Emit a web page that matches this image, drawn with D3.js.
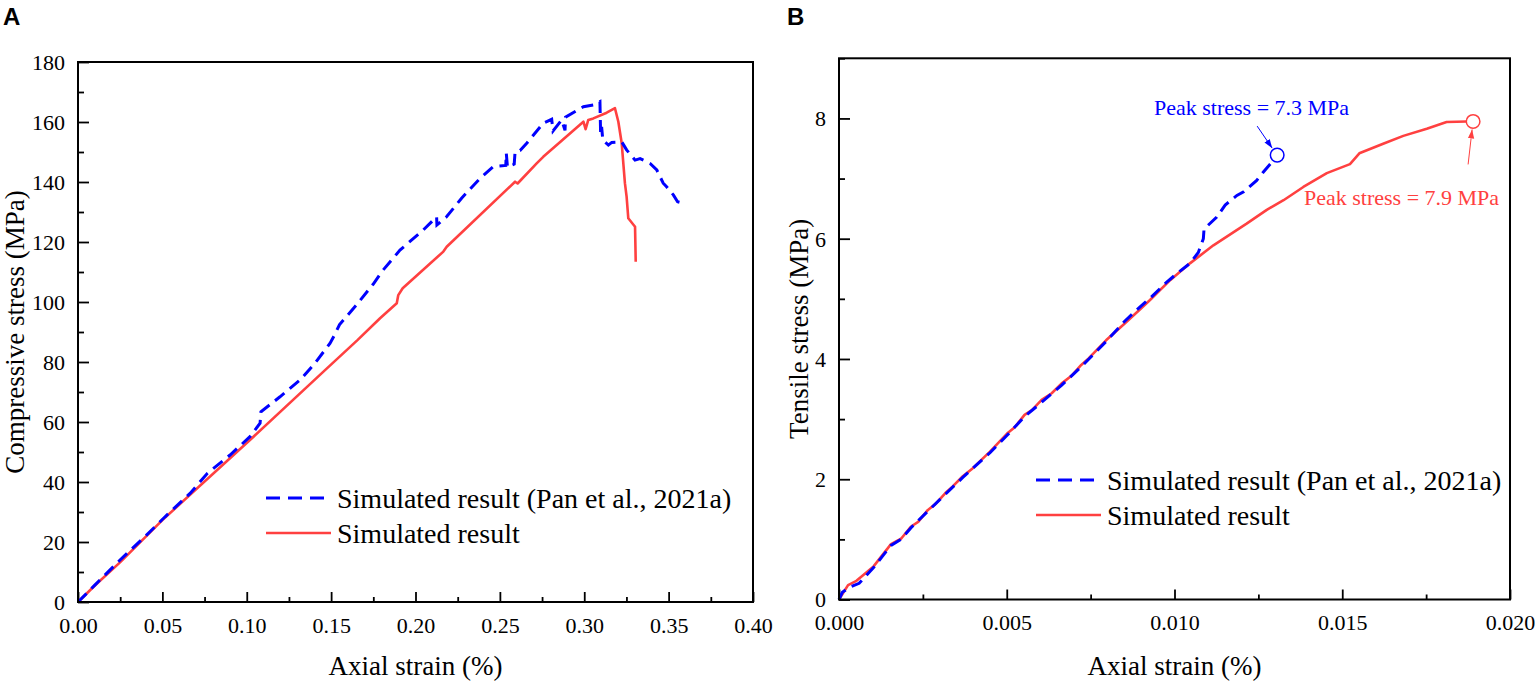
<!DOCTYPE html>
<html>
<head>
<meta charset="utf-8">
<script src="https://cdn.jsdelivr.net/npm/d3@7"></script>
<style>
  html, body { margin: 0; padding: 0; background: #fff; }
  svg { display: block; }
</style>
</head>
<body>
<svg id="chart" width="1535" height="682"></svg>
<script>
// ---------------- DATA ----------------
// Panel A: compressive test
const compXTicks = [0, 0.05, 0.10, 0.15, 0.20, 0.25, 0.30, 0.35, 0.40];
const compYTicks = [0, 20, 40, 60, 80, 100, 120, 140, 160, 180];
const compPan = [
  [0,0],[0.005,2.8],[0.0101,5.7],[0.0249,14],[0.0397,21.8],[0.0516,28.4],[0.0664,36.2],
  [0.0767,42.9],[0.0901,49],[0.1019,55.1],[0.1079,59.6],[0.1084,63.4],[0.1197,68.4],
  [0.1316,74],[0.1404,79.6],[0.1493,86.2],[0.152,89],[0.155,92.5],[0.165,99],[0.175,106],
  [0.180,110.1],[0.1908,117.3],[0.2046,124],[0.2125,128.4],[0.2127,125.7],[0.2184,128.4],
  [0.2273,134.6],[0.2382,141.2],[0.2461,145.1],[0.2535,145.5],[0.2538,149.6],[0.2545,145],
  [0.2585,146],[0.259,150],[0.262,150.5],[0.2659,152.9],[0.2757,159.6],[0.2807,160.9],
  [0.2815,157],[0.2866,160.7],[0.2886,157.2],[0.2889,161.6],[0.2995,165.1],[0.3054,165.7],
  [0.3093,166.8],[0.3097,156],[0.3103,158.4],[0.3110,154],[0.3143,152.3],[0.3163,153.2],
  [0.3222,153.4],[0.3251,150.7],[0.3301,147.3],[0.3331,147.8],[0.339,146.2],[0.343,144],
  [0.3468,139.6],[0.3488,138.4],[0.3528,135.7],[0.3553,133.4],[0.358,133]
];
const compSim = [
  [0,0],[0.01,5.5],[0.0249,13.2],[0.05,27.3],[0.1019,54],[0.1464,77.3],[0.1656,87.3],
  [0.179,94.6],[0.1889,99.6],[0.1898,102.3],[0.1924,104.6],[0.2165,116.8],[0.2185,118.4],
  [0.259,140.1],[0.2605,139.5],[0.2718,146.2],[0.2757,148.4],[0.2995,160.1],[0.3008,157.6],
  [0.3024,160.7],[0.3054,161.2],[0.3133,163.1],[0.3182,164.6],[0.3202,160.1],[0.3222,152.9],
  [0.3241,139.6],[0.3251,135.1],[0.3261,127.9],[0.3301,125.1],[0.3305,113.4]
];

// Panel B: tensile test
const tensXTicks = [0, 0.005, 0.010, 0.015, 0.020];
const tensYTicks = [0, 2, 4, 6, 8];
const tensPan = [
  [0,0],[0.0001,0.12],[0.0003,0.2],[0.0006,0.27],[0.00103,0.53],[0.00155,0.9],[0.00185,1.0],
  [0.00214,1.19],[0.00265,1.47],[0.00317,1.75],[0.00369,2.03],[0.0045,2.44],[0.00501,2.73],
  [0.00553,3.04],[0.00604,3.28],[0.00663,3.56],[0.00722,3.87],[0.00796,4.29],[0.0085,4.62],
  [0.009,4.88],[0.00927,5.01],[0.00977,5.28],[0.01007,5.42],[0.01046,5.59],[0.01071,5.77],
  [0.01086,6.0],[0.01088,6.16],[0.01126,6.36],[0.01151,6.56],[0.01186,6.72],[0.01206,6.78],
  [0.01245,6.97],[0.01265,7.11],[0.0129,7.27]
];
const tensSim = [
  [0,0],[0.00027,0.24],[0.00052,0.31],[0.00103,0.55],[0.00155,0.92],[0.00185,1.01],
  [0.00214,1.21],[0.00236,1.29],[0.00265,1.49],[0.00288,1.59],[0.00317,1.77],[0.00339,1.88],
  [0.00369,2.05],[0.00398,2.18],[0.0045,2.46],[0.00501,2.76],[0.00523,2.86],[0.00553,3.07],
  [0.00575,3.15],[0.00604,3.32],[0.00634,3.43],[0.00663,3.59],[0.00693,3.72],[0.00722,3.9],
  [0.00744,4.01],[0.00796,4.31],[0.0085,4.58],[0.009,4.84],[0.00927,4.98],[0.00987,5.31],
  [0.01046,5.59],[0.01116,5.89],[0.01215,6.25],[0.01275,6.48],[0.01325,6.64],[0.01384,6.86],
  [0.01454,7.09],[0.01523,7.24],[0.01551,7.42],[0.01622,7.58],[0.01682,7.71],[0.01752,7.83],
  [0.01811,7.94],[0.01871,7.95]
];
const tensPeakPan = [0.01306, 7.39];
const tensPeakSim = [0.0189, 7.95];

const legendLabels = ["Simulated result (Pan et al., 2021a)", "Simulated result"];
const peakLabels = ["Peak stress = 7.3 MPa", "Peak stress = 7.9 MPa"];
const panelLetters = ["A", "B"];
const xTitle = "Axial strain (%)";
const yTitles = ["Compressive stress (MPa)", "Tensile stress (MPa)"];

// ---------------- STYLE ----------------
const SERIF = "'Liberation Serif', 'Times New Roman', serif";
const SANS = "'Liberation Sans', Arial, sans-serif";
const BLUE = "#0000ff";
const RED = "#ff4040";
const svg = d3.select("#chart");

svg.append("defs").selectAll("marker")
  .data([["arrBlue", BLUE], ["arrRed", RED]])
  .join("marker")
  .attr("id", d => d[0])
  .attr("viewBox", "0 0 10 10")
  .attr("refX", 10).attr("refY", 5)
  .attr("markerWidth", 9).attr("markerHeight", 9)
  .attr("markerUnits", "userSpaceOnUse")
  .attr("orient", "auto")
  .append("path").attr("d", "M0,1.5 L10,5 L0,8.5 Z").attr("fill", d => d[1]);

function panel(opts) {
  const {x0, x1, y0, y1, xDom, yDom, xTicks, yTicks, xMinor, yMinor, xFmt,
         pan, sim, yTitle, yTitleX, letter, letterX, legX, legY} = opts;
  const x = d3.scaleLinear().domain(xDom).range([x0, x1]);
  const y = d3.scaleLinear().domain(yDom).range([y1, y0]);
  const g = svg.append("g");

  // minor ticks
  g.append("g").attr("transform", `translate(0,${y1})`)
    .call(d3.axisBottom(x).tickValues(xMinor).tickSize(-5).tickSizeOuter(0).tickFormat(""))
    .call(s => s.select(".domain").remove())
    .selectAll("line").attr("stroke-width", 1.8);
  g.append("g").attr("transform", `translate(${x0},0)`)
    .call(d3.axisLeft(y).tickValues(yMinor).tickSize(-6).tickSizeOuter(0).tickFormat(""))
    .call(s => s.select(".domain").remove())
    .selectAll("line").attr("stroke-width", 1.8);

  // major ticks
  const xa = g.append("g").attr("transform", `translate(0,${y1})`)
    .call(d3.axisBottom(x).tickValues(xTicks).tickSize(-10).tickSizeOuter(0)
      .tickPadding(15).tickFormat(xFmt));
  xa.select(".domain").remove();
  xa.selectAll("line").attr("stroke-width", 1.8);
  xa.selectAll("text").style("font-family", SERIF).style("font-size", "22px").attr("fill", "#000");

  const ya = g.append("g").attr("transform", `translate(${x0},0)`)
    .call(d3.axisLeft(y).tickValues(yTicks).tickSize(-11).tickSizeOuter(0)
      .tickPadding(13).tickFormat(d3.format("d")));
  ya.select(".domain").remove();
  ya.selectAll("line").attr("stroke-width", 1.8);
  ya.selectAll("text").style("font-family", SERIF).style("font-size", "22px").attr("fill", "#000")
    .attr("dy", "0.34em");

  // lines
  const line = d3.line().x(d => x(d[0])).y(d => y(d[1]));
  g.append("path").datum(sim).attr("d", line)
    .attr("fill", "none").attr("stroke", RED).attr("stroke-width", 2.6)
    .attr("stroke-linejoin", "round");
  g.append("path").datum(pan).attr("d", line)
    .attr("fill", "none").attr("stroke", BLUE).attr("stroke-width", 3)
    .attr("stroke-dasharray", "12,7");

  // frame
  g.append("rect").attr("x", x0).attr("y", y0).attr("width", x1 - x0).attr("height", y1 - y0)
    .attr("fill", "none").attr("stroke", "#000").attr("stroke-width", 2);

  // titles
  g.append("text").attr("x", (x0 + x1) / 2).attr("y", 675).attr("text-anchor", "middle")
    .style("font-family", SERIF).style("font-size", "27px").text(xTitle);
  g.append("text").attr("transform", `translate(${yTitleX},${(y0 + y1) / 2}) rotate(-90)`)
    .attr("text-anchor", "middle")
    .style("font-family", SERIF).style("font-size", "27px").text(yTitle);
  g.append("text").attr("x", letterX).attr("y", 25)
    .style("font-family", SANS).style("font-weight", "bold").style("font-size", "24px")
    .text(letter);

  // legend
  const leg = g.append("g").attr("transform", `translate(${legX},${legY})`);
  const items = [{c: BLUE, dash: "14,8", w: 3, t: legendLabels[0]},
                 {c: RED, dash: null, w: 2.6, t: legendLabels[1]}];
  items.forEach((it, i) => {
    leg.append("line").attr("x1", 0).attr("x2", 65).attr("y1", i * 35).attr("y2", i * 35)
      .attr("stroke", it.c).attr("stroke-width", it.w)
      .attr("stroke-dasharray", it.dash);
    leg.append("text").attr("x", 71).attr("y", i * 35 + 10)
      .style("font-family", SERIF).style("font-size", "28px").text(it.t);
  });

  return {x, y, g};
}

const minorRange = (a, b, s) => d3.range(Math.round((b - a) / s) + 1).map(i => a + i * s);

const A = panel({
  x0: 78, x1: 753, y0: 62, y1: 602, xDom: [0, 0.4], yDom: [0, 180],
  xTicks: compXTicks, yTicks: compYTicks,
  xMinor: minorRange(0.025, 0.375, 0.05), yMinor: minorRange(10, 170, 20),
  xFmt: d3.format(".2f"), pan: compPan, sim: compSim,
  yTitle: yTitles[0], yTitleX: 24, letter: panelLetters[0], letterX: 3,
  legX: 266, legY: 498
});

const B = panel({
  x0: 839, x1: 1510, y0: 58.3, y1: 599.5, xDom: [0, 0.02], yDom: [0, 9],
  xTicks: tensXTicks, yTicks: tensYTicks,
  xMinor: minorRange(0.0025, 0.0175, 0.005), yMinor: minorRange(1, 9, 2),
  xFmt: d3.format(".3f"), pan: tensPan, sim: tensSim,
  yTitle: yTitles[1], yTitleX: 808, letter: panelLetters[1], letterX: 787,
  legX: 1036, legY: 480
});

// peak markers and annotations (panel B)
const pb = [B.x(tensPeakPan[0]), B.y(tensPeakPan[1])];
const pr = [B.x(tensPeakSim[0]), B.y(tensPeakSim[1])];
B.g.append("line").attr("x1", pb[0] - 20).attr("y1", pb[1] - 29)
  .attr("x2", pb[0] - 5).attr("y2", pb[1] - 7)
  .attr("stroke", BLUE).attr("stroke-width", 1).attr("marker-end", "url(#arrBlue)");
B.g.append("line").attr("x1", pr[0] - 5).attr("y1", pr[1] + 43)
  .attr("x2", pr[0] - 1).attr("y2", pr[1] + 8)
  .attr("stroke", RED).attr("stroke-width", 1).attr("marker-end", "url(#arrRed)");
B.g.append("circle").attr("cx", pb[0]).attr("cy", pb[1]).attr("r", 6.8)
  .attr("fill", "#fff").attr("stroke", BLUE).attr("stroke-width", 1.5);
B.g.append("circle").attr("cx", pr[0]).attr("cy", pr[1]).attr("r", 6.8)
  .attr("fill", "#fff").attr("stroke", RED).attr("stroke-width", 1.5);
B.g.append("text").attr("x", 1154).attr("y", 115)
  .style("font-family", SERIF).style("font-size", "22px")
  .style("fill", BLUE).text(peakLabels[0]);
B.g.append("text").attr("x", 1304).attr("y", 205)
  .style("font-family", SERIF).style("font-size", "22px")
  .style("fill", RED).text(peakLabels[1]);
</script>
</body>
</html>
